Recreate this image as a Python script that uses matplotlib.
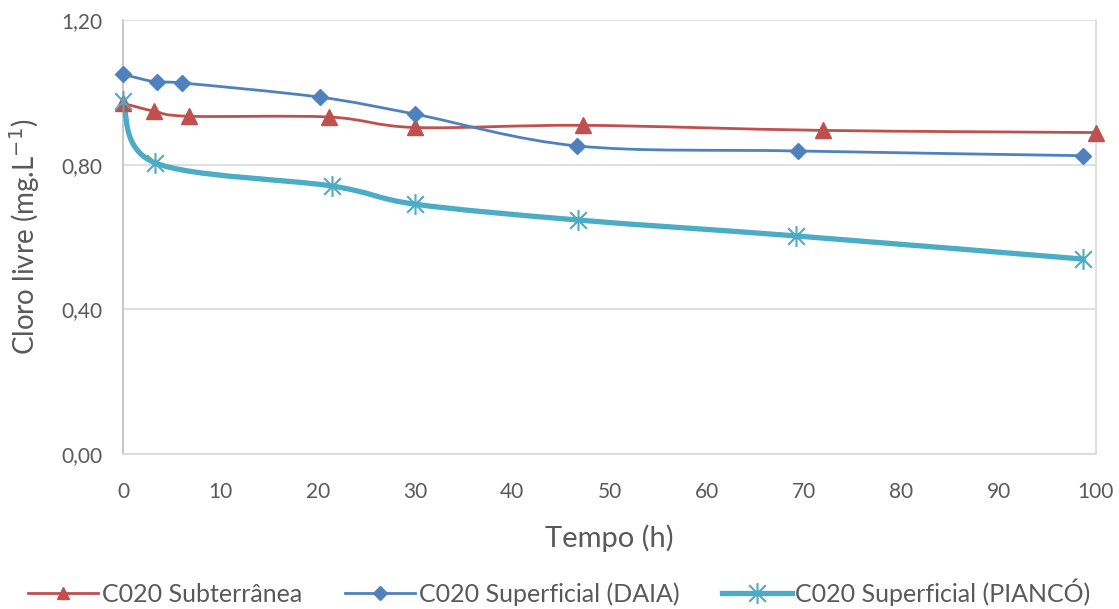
import matplotlib
matplotlib.use('Agg')
import matplotlib.pyplot as plt
import numpy as np
from matplotlib.path import Path
from matplotlib.patches import PathPatch
from matplotlib.lines import Line2D
from matplotlib.ticker import FuncFormatter

# Data
sub_t = [0, 3.2, 6.8, 21.2, 30.0, 47.3, 71.9, 100]
sub_v = [0.970, 0.948, 0.934, 0.932, 0.903, 0.909, 0.895, 0.889]

daia_t = [0, 3.5, 6.1, 20.2, 30.0, 46.7, 69.4, 98.7]
daia_v = [1.050, 1.028, 1.026, 0.987, 0.940, 0.852, 0.838, 0.825]

pianco_t = [0, 3.3, 21.5, 30.0, 46.8, 69.2, 98.7]
pianco_v = [0.975, 0.805, 0.741, 0.691, 0.647, 0.603, 0.539]

labels = ["C020 Subterrânea", "C020 Superficial (DAIA)", "C020 Superficial (PIANCÓ)"]
x_ticks = list(range(0, 101, 10))
y_ticks = [0, 0.4, 0.8, 1.2]

RED = '#C0504D'
BLUE = '#4F81BD'
CYAN = '#4BACC6'
GREY = '#595959'

plt.rcParams['font.family'] = ['Lato', 'DejaVu Sans']

# asterisk marker like Excel's (x plus vertical bar)
star = Path([(-1, -1), (1, 1), (-1, 1), (1, -1), (0, -1.25), (0, 1.25)],
            [Path.MOVETO, Path.LINETO, Path.MOVETO, Path.LINETO, Path.MOVETO, Path.LINETO])


def smooth_path(xs, ys):
    # Excel-style smoothed line: cubic bezier through every point
    p = np.column_stack([xs, ys]).astype(float)
    ext = np.vstack([p[0], p, p[-1]])
    verts = [p[0]]
    codes = [Path.MOVETO]
    for i in range(len(p) - 1):
        p0, p1, p2, p3 = ext[i], ext[i + 1], ext[i + 2], ext[i + 3]
        c1 = p1 + (p2 - p0) / 6.0
        c2 = p2 - (p3 - p1) / 6.0
        verts += [c1, c2, p2]
        codes += [Path.CURVE4] * 3
    return Path(verts, codes)


fig = plt.figure(figsize=(11.19, 6.09), dpi=100)
ax = fig.add_axes([0.11, 0.2545, 0.8694, 0.7125])

series = [
    (sub_t, sub_v, RED, 2.0, '^', 11),
    (daia_t, daia_v, BLUE, 2.0, 'D', 8.5),
    (pianco_t, pianco_v, CYAN, 3.8, star, 15),
]
handles = []
for (t, v, col, lw, mk, ms), lab in zip(series, labels):
    ax.add_patch(PathPatch(smooth_path(t, v), fill=False, edgecolor=col, lw=lw,
                           capstyle='round', joinstyle='round', zorder=3))
    if mk is star:
        ax.plot(t, v, linestyle='none', marker=mk, ms=ms, mec=col, mew=1.5,
                zorder=4, clip_on=False)
        h = Line2D([], [], color=col, lw=lw, marker=mk, ms=ms, mec=col, mew=1.5)
    else:
        ax.plot(t, v, linestyle='none', marker=mk, ms=ms, color=col, zorder=4, clip_on=False)
        h = Line2D([], [], color=col, lw=lw, marker=mk, ms=ms * 0.85)
    handles.append(h)

ax.set_xlim(0, 100)
ax.set_ylim(0, 1.2)
ax.set_xticks(x_ticks)
ax.set_yticks(y_ticks)
ax.yaxis.set_major_formatter(FuncFormatter(lambda v, p: f"{v:.2f}".replace('.', ',')))
ax.tick_params(length=0, labelsize=15, colors=GREY, pad=15)
ax.tick_params(axis='x', pad=20)

ax.grid(axis='y', color='#D9D9D9', lw=1.2)
for side in ['left', 'bottom', 'right']:
    ax.spines[side].set_color('#D9D9D9')
    ax.spines[side].set_linewidth(1.2)
ax.spines['left'].set_color('#BFBFBF')
ax.spines['top'].set_visible(False)

ax.set_xlabel("Tempo (h)", fontsize=21, color=GREY, labelpad=16)
ax.set_ylabel("Cloro livre (mg.L$^{-1}$)", fontsize=20, color=GREY, labelpad=14)

fig.legend(handles, labels, loc='center', bbox_to_anchor=(0.5, 0.028), ncol=3,
           frameon=False, fontsize=18, labelcolor=GREY, handlelength=2.8,
           handletextpad=0.15, columnspacing=1.7)

fig.savefig('out.png', dpi=100)
